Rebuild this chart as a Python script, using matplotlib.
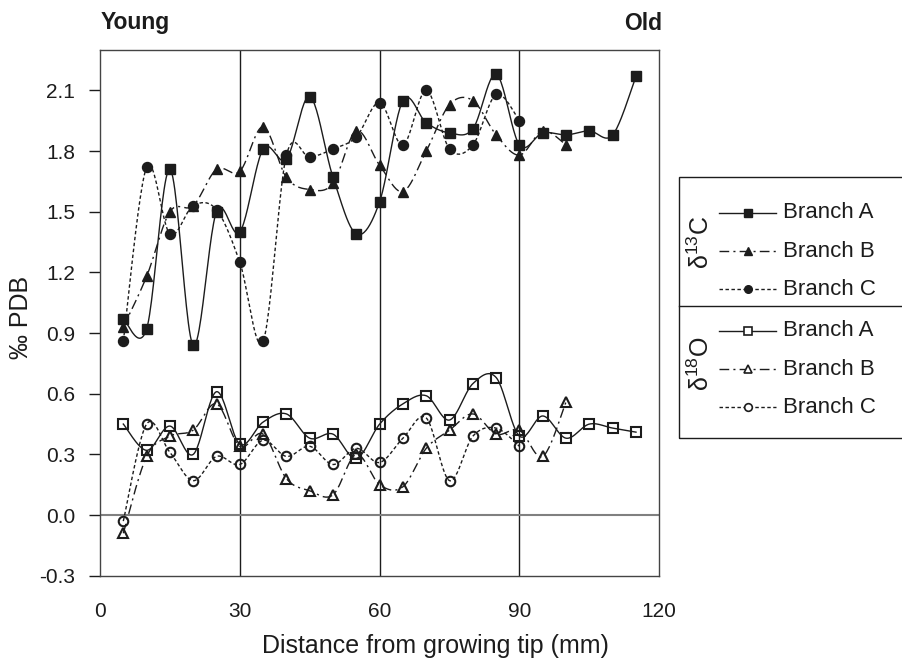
import numpy as np
import matplotlib
matplotlib.use("Agg")
import matplotlib.pyplot as plt
from matplotlib.lines import Line2D
from matplotlib.patches import Rectangle

plt.rcParams['font.family'] = ['Liberation Sans', 'DejaVu Sans']
plt.rcParams['mathtext.fontset'] = 'custom'
plt.rcParams['mathtext.rm'] = 'Liberation Sans'
plt.rcParams['mathtext.default'] = 'regular'

# ---------------- data ----------------
x_c13_a = [5, 10, 15, 20, 25, 30, 35, 40, 45, 50, 55, 60, 65, 70, 75, 80, 85, 90, 95, 100, 105, 110, 115]
c13_a = [0.97, 0.92, 1.71, 0.84, 1.50, 1.40, 1.81, 1.76, 2.07, 1.67, 1.39, 1.55, 2.05, 1.94, 1.89, 1.91, 2.18,
         1.83, 1.89, 1.88, 1.90, 1.88, 2.17]
x_c13_b = [5, 10, 15, 20, 25, 30, 35, 40, 45, 50, 55, 60, 65, 70, 75, 80, 85, 90, 95, 100]
c13_b = [0.93, 1.18, 1.50, 1.53, 1.71, 1.70, 1.92, 1.67, 1.61, 1.64, 1.90, 1.73, 1.60, 1.80, 2.03, 2.05, 1.88,
         1.78, 1.90, 1.83]
x_c13_c = [5, 10, 15, 20, 25, 30, 35, 40, 45, 50, 55, 60, 65, 70, 75, 80, 85, 90]
c13_c = [0.86, 1.72, 1.39, 1.53, 1.51, 1.25, 0.86, 1.78, 1.77, 1.81, 1.87, 2.04, 1.83, 2.10, 1.81, 1.83, 2.08, 1.95]

x_o18_a = [5, 10, 15, 20, 25, 30, 35, 40, 45, 50, 55, 60, 65, 70, 75, 80, 85, 90, 95, 100, 105, 110, 115]
o18_a = [0.45, 0.32, 0.44, 0.30, 0.61, 0.35, 0.46, 0.50, 0.38, 0.40, 0.28, 0.45, 0.55, 0.59, 0.47, 0.65, 0.68,
         0.39, 0.49, 0.38, 0.45, 0.43, 0.41]
x_o18_b = [5, 10, 15, 20, 25, 30, 35, 40, 45, 50, 55, 60, 65, 70, 75, 80, 85, 90, 95, 100]
o18_b = [-0.09, 0.29, 0.39, 0.42, 0.55, 0.34, 0.40, 0.18, 0.12, 0.10, 0.30, 0.15, 0.14, 0.33, 0.42, 0.50, 0.40,
         0.42, 0.29, 0.56]
x_o18_c = [5, 10, 15, 20, 25, 30, 35, 40, 45, 50, 55, 60, 65, 70, 75, 80, 85, 90]
o18_c = [-0.03, 0.45, 0.31, 0.17, 0.29, 0.25, 0.37, 0.29, 0.34, 0.25, 0.33, 0.26, 0.38, 0.48, 0.17, 0.39, 0.43, 0.34]

x_ticks = [0, 30, 60, 90, 120]
y_ticks = [-0.3, 0.0, 0.3, 0.6, 0.9, 1.2, 1.5, 1.8, 2.1]
y_ticklabels = ['-0.3', '0.0', '0.3', '0.6', '0.9', '1.2', '1.5', '1.8', '2.1']
branches = ['Branch A', 'Branch B', 'Branch C']


# ---------------- rendering helpers ----------------
def smooth_curve(x, y, n=24):
    """Catmull-Rom curve through the data points (drawing only)."""
    p = np.column_stack([np.asarray(x, float), np.asarray(y, float)])
    p = np.vstack([p[0], p, p[-1]])
    out = []
    t = np.linspace(0, 1, n, endpoint=False)[:, None]
    for i in range(1, len(p) - 2):
        p0, p1, p2, p3 = p[i - 1], p[i], p[i + 1], p[i + 2]
        seg = 0.5 * ((2 * p1) + (-p0 + p2) * t + (2 * p0 - 5 * p1 + 4 * p2 - p3) * t ** 2
                     + (-p0 + 3 * p1 - 3 * p2 + p3) * t ** 3)
        out.append(seg)
    out.append(p[-2][None, :])
    out = np.vstack(out)
    return out[:, 0], out[:, 1]


INK = '#1c1c1c'
styles = {
    'A': dict(ls='-'),
    'B': dict(ls=(0, (7, 3, 1.5, 3))),
    'C': dict(ls=(0, (2.5, 1.8))),
}
markers = {'A': 's', 'B': '^', 'C': 'o'}
msize = {'A': 7.4, 'B': 7.8, 'C': 7.2}

fig = plt.figure(figsize=(9.03, 6.6), dpi=100)
ax = fig.add_axes([100 / 903, 1 - 575.7 / 660, 559.3 / 903, 525.7 / 660])

series = [
    ('A', x_c13_a, c13_a, True), ('B', x_c13_b, c13_b, True), ('C', x_c13_c, c13_c, True),
    ('A', x_o18_a, o18_a, False), ('B', x_o18_b, o18_b, False), ('C', x_o18_c, o18_c, False),
]

for key, xs, ys, filled in series:
    sx, sy = smooth_curve(xs, ys)
    ax.plot(sx, sy, color=INK, lw=1.0, linestyle=styles[key]['ls'], zorder=3)
    if filled:
        ax.plot(xs, ys, linestyle='none', marker=markers[key], ms=msize[key], mfc=INK, mec=INK, zorder=4)
    else:
        ax.plot(xs, ys, linestyle='none', marker=markers[key], ms=msize[key] * 0.95, mfc='none', mec=INK,
                mew=1.5, zorder=4)

# reference lines
for xv in [30, 60, 90]:
    ax.axvline(xv, color=INK, lw=1.0, zorder=2)
ax.axhline(0.0, color='#808080', lw=1.5, zorder=2)

ax.set_xlim(0, 120)
ax.set_ylim(-0.3, 2.3)
ax.set_xticks(x_ticks)
ax.set_yticks(y_ticks)
ax.set_yticklabels(y_ticklabels)
ax.tick_params(axis='x', length=0, pad=19, labelsize=15, colors=INK)
ax.tick_params(axis='y', length=8, width=1, pad=10, labelsize=15, colors=INK, direction='out')
for s in ax.spines.values():
    s.set_color('#444444')
    s.set_linewidth(1.0)


def fx(px):
    return px / 903


def fy(py):
    return 1 - py / 660


fig.text(fx(435), fy(652.5), 'Distance from growing tip (mm)', fontsize=18, color=INK, ha='center',
         va='baseline')
fig.text(fx(21), fy(317), '‰ PDB', fontsize=18, color=INK, rotation=90, ha='center', va='center')

fig.text(fx(101), fy(23), 'Young', fontsize=16.5, fontweight='bold', color=INK, ha='left', va='center')
fig.text(fx(662), fy(23), 'Old', fontsize=16.5, fontweight='bold', color=INK, ha='right', va='center')

# ---------------- legend (manual) ----------------
fig.add_artist(Rectangle((fx(679), fy(437.7)), fx(240), 260.7 / 660, transform=fig.transFigure,
                         fill=False, ec=INK, lw=1.0, clip_on=False))
fig.add_artist(Line2D([fx(679), fx(920)], [fy(305.7), fy(305.7)], transform=fig.transFigure, color=INK, lw=1.0))

rows13 = [212.7, 251.0, 289.3]
rows18 = [331.0, 369.3, 407.3]
for rows, filled in [(rows13, True), (rows18, False)]:
    for key, ry, name in zip(['A', 'B', 'C'], rows, branches):
        fig.add_artist(Line2D([fx(719), fx(776)], [fy(ry), fy(ry)], transform=fig.transFigure,
                              color=INK, lw=1.0, linestyle=styles[key]['ls']))
        if filled:
            fig.add_artist(Line2D([fx(748)], [fy(ry)], transform=fig.transFigure, linestyle='none',
                                  marker=markers[key], ms=5.5, mfc=INK, mec=INK))
        else:
            fig.add_artist(Line2D([fx(748)], [fy(ry)], transform=fig.transFigure, linestyle='none',
                                  marker=markers[key], ms=5.5, mfc='white', mec=INK, mew=1.2))
        fig.text(fx(783), fy(ry), name, fontsize=16, color=INK, ha='left', va='center')

fig.text(fx(701), fy(242), 'δ$^{13}$C', fontsize=18, color=INK, rotation=90, ha='center', va='center')
fig.text(fx(701), fy(364), 'δ$^{18}$O', fontsize=18, color=INK, rotation=90, ha='center', va='center')

fig.savefig('out.png', dpi=100)
